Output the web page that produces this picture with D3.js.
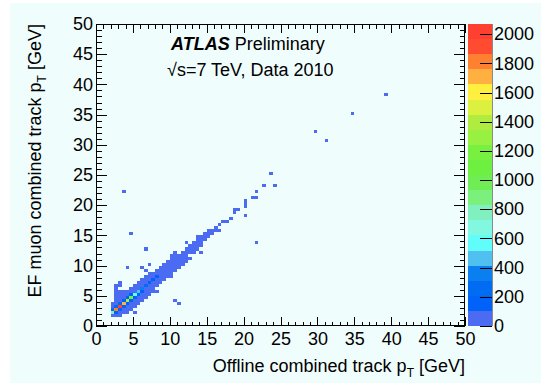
<!DOCTYPE html>
<html><head><meta charset="utf-8">
<script src="https://cdn.jsdelivr.net/npm/d3@7/dist/d3.min.js"></script>
<style>
body{margin:0;background:#fff}
svg{display:block}
text{font-family:"Liberation Sans",Arial,Helvetica,sans-serif;fill:#000}
</style>
</head><body>
<svg id="c" width="541" height="385"></svg>
<script>
// ---- data ----
const xTickLabels = [0,5,10,15,20,25,30,35,40,45,50];
const yTickLabels = [0,5,10,15,20,25,30,35,40,45,50];
const zTickLabels = [0,200,400,600,800,1000,1200,1400,1600,1800,2000];
const axisRange = [0,50];
const binWidth = 0.5;
const zMax = 2070;
const paletteColors = ["#4b6bf2","#0062f8","#006cf2","#0a80f0","#50c0f0","#60fdfb","#82f8e0","#80f0c0",
  "#7cf07c","#70ec55","#6ef040","#78f040","#98f040","#b0ec40","#dcf040","#fff040","#ffb040","#ff8030","#ff4c30","#ff4030"];
const xTitle = "Offline combined track p";
const yTitle = "EF muon combined track p";
// histogram cells: [x bin low edge, y bin low edge, entries]
const cells = [
[2,1.5,60],[2,2,780],[2,2.5,240],[2,3,90],[2,3.5,40],
[2.5,1.5,45],[2.5,2,150],[2.5,2.5,1800],[2.5,3,230],[2.5,3.5,70],[2.5,4,25],[2.5,4.5,12],[2.5,5,8],[2.5,5.5,5],[2.5,6,3],[2.5,6.5,2],
[3,1.5,20],[3,2,60],[3,2.5,160],[3,3,2040],[3,3.5,210],[3,4,60],[3,4.5,20],[3,5,10],[3,5.5,5],[3,6.5,2],[3,7,1],
[3.5,2,30],[3.5,2.5,70],[3.5,3,180],[3.5,3.5,1700],[3.5,4,130],[3.5,4.5,50],[3.5,5,15],[3.5,5.5,6],
[4,2,12],[4,2.5,30],[4,3,70],[4,3.5,160],[4,4,1380],[4,4.5,120],[4,5,40],[4,5.5,12],[4,9.5,1],
[4.5,2.5,8],[4.5,3,25],[4.5,3.5,60],[4.5,4,150],[4.5,4.5,1050],[4.5,5,110],[4.5,5.5,35],[4.5,6,10],[4.5,15,1],
[5,2,1],[5,3,8],[5,3.5,20],[5,4,50],[5,4.5,140],[5,5,600],[5,5.5,95],[5,6,30],[5,6.5,8],
[5.5,3.5,5],[5.5,4,15],[5.5,4.5,40],[5.5,5,120],[5.5,5.5,460],[5.5,6,80],[5.5,6.5,25],[5.5,7,6],
[6,4,4],[6,4.5,12],[6,5,35],[6,5.5,110],[6,6,330],[6,6.5,70],[6,7,20],[6,7.5,5],[6,9.5,1],
[6.5,4.5,3],[6.5,5,10],[6.5,5.5,30],[6.5,6,85],[6.5,6.5,250],[6.5,7,60],[6.5,7.5,15],[6.5,8,4],[6.5,9,1],[6.5,12.5,1],
[7,5,2],[7,5.5,8],[7,6,25],[7,6.5,70],[7,7,180],[7,7.5,50],[7,8,12],[7,8.5,3],[7,10,1],
[7.5,5.5,2],[7.5,6,7],[7.5,6.5,20],[7.5,7,60],[7.5,7.5,140],[7.5,8,40],[7.5,8.5,10],
[8,5.5,1],[8,6.5,6],[8,7,18],[8,7.5,50],[8,8,110],[8,8.5,35],[8,9,8],
[8.5,7,5],[8.5,7.5,15],[8.5,8,40],[8.5,8.5,90],[8.5,9,30],[8.5,9.5,6],
[9,7.5,4],[9,8,12],[9,8.5,35],[9,9,75],[9,9.5,25],[9,10,5],
[9.5,8,3],[9.5,8.5,10],[9.5,9,30],[9.5,9.5,60],[9.5,10,20],[9.5,10.5,4],
[10,8,1],[10,8.5,3],[10,9,8],[10,9.5,25],[10,10,50],[10,10.5,15],[10,11,4],[10,11.5,1],
[10.5,4,1],[10.5,9,2],[10.5,9.5,7],[10.5,10,20],[10.5,10.5,40],[10.5,11,12],[10.5,11.5,3],[10.5,12,1],
[11,3.5,1],[11,9.5,2],[11,10,6],[11,10.5,18],[11,11,32],[11,11.5,10],
[11.5,10,2],[11.5,10.5,5],[11.5,11,15],[11.5,11.5,28],[11.5,12,8],
[12,10.5,1],[12,11,4],[12,11.5,12],[12,12,22],[12,12.5,6],[12,13.5,1],
[12.5,11,1],[12.5,12,10],[12.5,12.5,18],[12.5,13,5],
[13,12,3],[13,12.5,8],[13,13,15],[13,13.5,4],
[13.5,12.5,2],[13.5,13,7],[13.5,13.5,12],[13.5,14,4],[13.5,14.5,1],
[14,12,1],[14,13,3],[14,13.5,6],[14,14,10],[14,14.5,3],
[14.5,14,5],[14.5,14.5,8],[14.5,15,2],
[15,14.5,4],[15,15,7],[15,15.5,2],
[15.5,15,4],[15.5,15.5,5],
[16,15.5,3],[16,16,4],
[16.5,15.5,1],[16.5,16.5,3],
[17,17,2],[17.5,17,2],[18,17.5,2],[18.5,18.5,1],[18.5,19,1],[19,19,1],
[20,18,1],[20,19.5,1],[20,20,1],[20,20.5,1],
[21,21,1],[21.5,13.5,1],[21.5,21,1],[21.5,22,1],
[22.5,23,1],[23.5,25,1],[24,23,1],
[29.5,32,1],[31,30.5,1],[34.5,35,1],[39,38,1],[3.5,22,1]
];

// ---- drawing ----
const svg = d3.select("#c");
const L = 96, R = 465, T = 24, B = 326;
const CB0 = 468, CB1 = 492;

svg.append("rect").attr("x",0).attr("y",0).attr("width",541).attr("height",385).attr("fill","#ffffff");
svg.append("rect").attr("x",10).attr("y",3).attr("width",531).attr("height",380).attr("fill","#f0fdfd");

const x = d3.scaleLinear().domain(axisRange).range([L,R]);
const y = d3.scaleLinear().domain(axisRange).range([B,T]);
const z = d3.scaleLinear().domain([0,zMax]).range([B,T]);
const nLev = paletteColors.length;
const step = zMax / nLev;
const colorOf = n => paletteColors[Math.min(nLev-1, Math.floor(n/step))];

// cells
svg.append("g").attr("shape-rendering","crispEdges")
  .selectAll("rect").data(cells).join("rect")
  .attr("x", d => x(d[0]))
  .attr("y", d => y(d[1]+binWidth))
  .attr("width", d => x(d[0]+binWidth)-x(d[0]))
  .attr("height", d => y(d[1])-y(d[1]+binWidth))
  .attr("fill", d => colorOf(d[2]));

// axes with inside ticks
const minorX = d3.range(axisRange[0], axisRange[1]+1, 1);
const fontFam = '"Liberation Sans",Arial,Helvetica,sans-serif';
function styleAxis(g){
  g.select(".domain").remove();
  g.attr("font-size",18).attr("font-family",fontFam).attr("shape-rendering","crispEdges");
  g.selectAll("line").attr("stroke","#000");
}
svg.append("g").attr("transform",`translate(0,${B})`)
  .call(d3.axisBottom(x).tickValues(xTickLabels).tickSize(-9).tickPadding(6).tickFormat(d3.format("d"))).call(styleAxis);
svg.append("g").attr("transform",`translate(0,${B})`)
  .call(d3.axisBottom(x).tickValues(minorX).tickSize(-4.5).tickFormat("")).call(styleAxis);
svg.append("g").attr("transform",`translate(0,${T})`)
  .call(d3.axisTop(x).tickValues(xTickLabels).tickSize(-9).tickFormat("")).call(styleAxis);
svg.append("g").attr("transform",`translate(0,${T})`)
  .call(d3.axisTop(x).tickValues(minorX).tickSize(-4.5).tickFormat("")).call(styleAxis);
svg.append("g").attr("transform",`translate(${L},0)`)
  .call(d3.axisLeft(y).tickValues(yTickLabels).tickSize(-11).tickPadding(3).tickFormat(d3.format("d"))).call(styleAxis);
svg.append("g").attr("transform",`translate(${L},0)`)
  .call(d3.axisLeft(y).tickValues(minorX).tickSize(-5.5).tickFormat("")).call(styleAxis);
svg.append("g").attr("transform",`translate(${R},0)`)
  .call(d3.axisRight(y).tickValues(yTickLabels).tickSize(-11).tickFormat("")).call(styleAxis);
svg.append("g").attr("transform",`translate(${R},0)`)
  .call(d3.axisRight(y).tickValues(minorX).tickSize(-5.5).tickFormat("")).call(styleAxis);

// frame
svg.append("rect").attr("x",L+0.5).attr("y",T+0.5).attr("width",R-L-1).attr("height",B-T-1)
  .attr("fill","none").attr("stroke","#000").attr("stroke-width",1);

// colour bar
const levels = d3.range(nLev);
svg.append("g").attr("shape-rendering","crispEdges")
  .selectAll("rect").data(levels).join("rect")
  .attr("x",CB0).attr("width",CB1-CB0)
  .attr("y", i => z((i+1)*step))
  .attr("height", i => z(i*step)-z((i+1)*step))
  .attr("fill", i => paletteColors[i]);
svg.append("line").attr("x1",CB1+0.5).attr("x2",CB1+0.5).attr("y1",T).attr("y2",B)
  .attr("stroke","#8a8a8a");
const zAxis = svg.append("g").attr("transform",`translate(${CB1},0)`)
  .call(d3.axisLeft(z).tickValues(zTickLabels).tickSize(12).tickFormat(""));
zAxis.select(".domain").remove();
zAxis.selectAll("line").attr("stroke","#000").attr("shape-rendering","crispEdges");
svg.append("g").selectAll("text").data(zTickLabels).join("text")
  .attr("x", CB1+2).attr("y", d => z(d)).attr("dy","0.34em")
  .attr("font-size",18).text(d => d);

// axis titles
const xt = svg.append("text").attr("x",R).attr("y",372).attr("text-anchor","end").attr("font-size",18);
xt.append("tspan").text(xTitle);
xt.append("tspan").attr("font-size",12).attr("dy",5).text("T");
xt.append("tspan").attr("dy",-5).text(" [GeV]");

const yt = svg.append("text").attr("transform",`translate(41,${T}) rotate(-90)`)
  .attr("text-anchor","end").attr("font-size",18);
yt.append("tspan").text(yTitle);
yt.append("tspan").attr("font-size",12).attr("dy",5).text("T");
yt.append("tspan").attr("dy",-5).text(" [GeV]");

// ATLAS label
const at = svg.append("text").attr("x",171).attr("y",50).attr("font-size",18);
at.append("tspan").attr("font-weight","bold").attr("font-style","italic").text("ATLAS");
at.append("tspan").text(" Preliminary");
svg.append("text").attr("x",167).attr("y",76).attr("font-size",18).text("\u221As=7 TeV, Data 2010");
</script>
</body></html>
